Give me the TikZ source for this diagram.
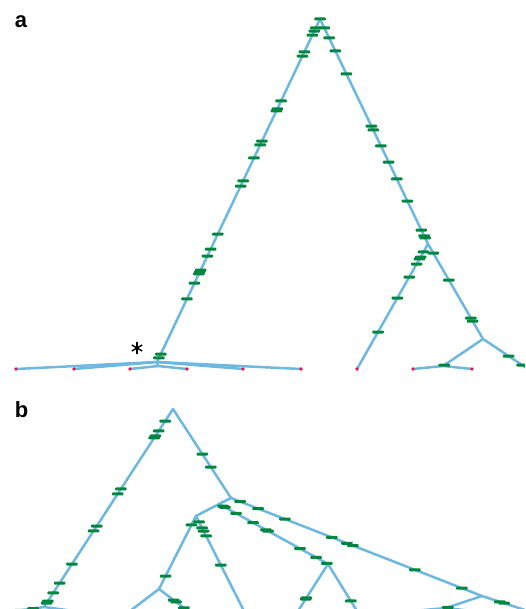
\documentclass[tikz,border=0pt]{standalone}
\usepackage{fontspec}
\setmainfont{Liberation Sans}
\definecolor{brc}{RGB}{108,184,224}
\definecolor{mkc}{RGB}{0,134,62}
\definecolor{lfc}{RGB}{228,24,72}
\newcommand\mymarks[3]{\foreach \p [count=\i] in {#3} \path (#1) -- (#2) node[mk,pos=\p] (m#1#2\i) {};}
\begin{document}
\begin{tikzpicture}[x=1pt,y=-1pt,
  br/.style={draw=brc, line width=2.5pt, line cap=round, line join=round},
  mk/.style={rectangle, fill=mkc, inner sep=0pt, minimum width=11.5pt, minimum height=3pt, rounded corners=0.9pt},
  lf/.style={circle, fill=lfc, inner sep=0pt, minimum size=3.8pt},
  lab/.style={font=\fontsize{22}{22}\selectfont\bfseries, inner sep=0pt},
  starline/.style={draw=black, line width=1.4pt}]
\useasboundingbox (0,0) rectangle (525,609);
\clip (0,0) rectangle (525,609);

% ---------- labels ----------
\node[lab] (labA) at (21,22) {a};
\node[lab] (labB) at (21.5,410) {b};

% ---------- part a coordinates ----------
\coordinate (ra) at (320,19);
\coordinate (ha) at (157,362);
\coordinate (ia) at (158,366);
\coordinate (ja) at (428,244);
\coordinate (ka) at (483,339);
\coordinate (ma) at (443,366);
\foreach \n/\x in {1/16,2/74,3/130,4/187,5/243,6/301,7/357,8/413,9/472,10/528}
  \coordinate (a\n) at (\x,369);

% ---------- part b coordinates ----------
\coordinate (rb) at (173,409);
\coordinate (hb) at (44,607);
\coordinate (A) at (231,498);
\coordinate (B) at (219,504);
\coordinate (C) at (196,516);
\coordinate (E) at (159,589);
\coordinate (D) at (328,564);
\coordinate (F) at (482,596);
\coordinate (G) at (446,608);
\foreach \n/\x in {1/16,2/74,3/130,4/188,5/244,6/298,7/357,8/413,9/472,10/528}
  \coordinate (b\n) at (\x,611);

% ---------- branches a ----------
\draw[br] (ra) -- (ha);
\draw[br] (ha) -- (a1);
\draw[br] (ha) -- (a2);
\draw[br] (ha) -- (a5);
\draw[br] (ha) -- (a6);
\draw[br] (ha) -- (ia);
\draw[br] (ia) -- (a3);
\draw[br] (ia) -- (a4);
\draw[br] (ra) -- (ja);
\draw[br] (ja) -- (a7);
\draw[br] (ja) -- (ka);
\draw[br] (ka) -- (ma);
\draw[br] (ma) -- (a8);
\draw[br] (ma) -- (a9);
\draw[br] (ka) -- (a10);

% ---------- branches b ----------
\draw[br] (rb) -- (hb);
\draw[br] (hb) -- (b1);
\draw[br] (hb) -- (b2);
\draw[br] (rb) -- (A);
\draw[br] (A) -- (B);
\draw[br] (B) -- (C);
\draw[br] (C) -- (E);
\draw[br] (E) -- (b3);
\draw[br] (E) -- (b4);
\draw[br] (C) -- (b5);
\draw[br] (B) -- (D);
\draw[br] (D) -- (b6);
\draw[br] (D) -- (b7);
\draw[br] (A) -- (F);
\draw[br] (F) -- (G);
\draw[br] (G) -- (b8);
\draw[br] (G) -- (b9);
\draw[br] (F) -- (b10);

% ---------- leaves ----------
\foreach \n in {1,...,10} {\node[lf] (la\n) at (a\n) {}; \node[lf] (lb\n) at (b\n) {};}

% ---------- marks a ----------
\node[mk] (mroot) at (ra) {};
\mymarks{ra}{ha}{0.026,0.035,0.047,0.096,0.108,0.239,0.262,0.268,0.356,0.367,0.405,0.472,0.487,0.627,0.671,0.691,0.732,0.738,0.743,0.770,0.816,0.977,0.988}
\mymarks{ra}{ja}{0.04,0.084,0.142,0.244,0.476,0.493,0.564,0.636,0.711,0.809,0.938,0.964,0.973}
\mymarks{ja}{a7}{0.064,0.104,0.12,0.16,0.264,0.432,0.704}
\mymarks{ja}{ka}{0.095,0.379,0.779,0.811}
\mymarks{ka}{ma}{0.97}
\mymarks{ka}{a10}{0.567,0.867}

% ---------- marks b ----------
\mymarks{rb}{hb}{0.061,0.111,0.136,0.146,0.404,0.429,0.591,0.616,0.783,0.879,0.929,0.970,0.980}
\mymarks{hb}{b1}{0.39,0.857}
\mymarks{rb}{A}{0.506,0.652}
\mymarks{B}{D}{0.037,0.055,0.156,0.312,0.431,0.45,0.743,0.89,0.99}
\mymarks{A}{F}{0.036,0.108,0.215,0.402,0.462,0.486,0.733,0.92}
\mymarks{C}{E}{0.123,0.822}
\mymarks{C}{b5}{0.063,0.126,0.158,0.21,0.516}
\mymarks{E}{b4}{0.5,0.59,0.86}
\mymarks{D}{b6}{0.723,0.745}
\mymarks{D}{b7}{0.787}
\mymarks{F}{G}{0.95}
\mymarks{F}{b10}{0.39,0.48}

% ---------- star ----------
\coordinate (star) at (137,348);
\draw[starline] (star) ++(0,-6) -- ++(0,12);
\draw[starline] (star) ++(-5.2,-3) -- ++(10.4,6);
\draw[starline] (star) ++(-5.2,3) -- ++(10.4,-6);
\end{tikzpicture}
\end{document}
